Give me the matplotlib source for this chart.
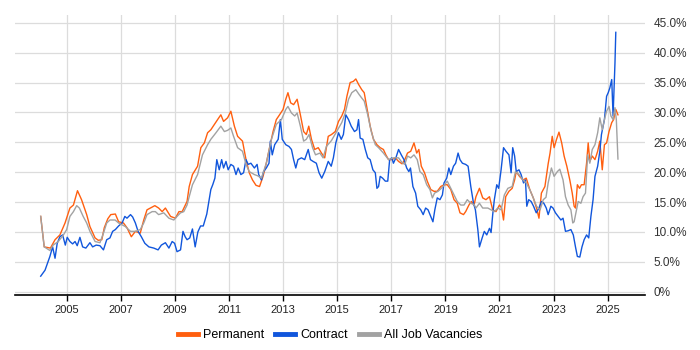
import matplotlib
matplotlib.use("Agg")
import matplotlib.pyplot as plt
from matplotlib.lines import Line2D
from matplotlib.ticker import FuncFormatter

plt.rcParams['font.family'] = ['Liberation Sans', 'DejaVu Sans']

# Permanent (orange) - decimal year, percent
perm_t = [2004.04, 2004.17, 2004.4, 2004.57, 2004.75, 2004.94, 2005.12, 2005.25, 2005.4, 2005.55,
          2005.74, 2005.86, 2006.05, 2006.17, 2006.3, 2006.39, 2006.52, 2006.63, 2006.8, 2006.92,
          2007.1, 2007.23, 2007.39, 2007.54, 2007.72, 2007.85, 2007.97, 2008.26, 2008.4, 2008.53,
          2008.65, 2008.84, 2009.02, 2009.15, 2009.27, 2009.45, 2009.53, 2009.65, 2009.84, 2009.96,
          2010.09, 2010.21, 2010.33, 2010.46, 2010.58, 2010.7, 2010.8, 2010.95, 2011.07, 2011.2,
          2011.32, 2011.5, 2011.63, 2011.75, 2011.87, 2012.0, 2012.13, 2012.26, 2012.38, 2012.5,
          2012.63, 2012.75, 2012.87, 2013.0, 2013.1, 2013.18, 2013.28, 2013.39, 2013.52, 2013.64,
          2013.76, 2013.86, 2013.95, 2014.05, 2014.17, 2014.3, 2014.42, 2014.54, 2014.67, 2014.79,
          2014.93, 2015.05, 2015.17, 2015.27, 2015.36, 2015.48, 2015.6, 2015.69, 2015.79, 2015.91,
          2016.0, 2016.1, 2016.22, 2016.34, 2016.47, 2016.59, 2016.71, 2016.8, 2016.9, 2017.02,
          2017.15, 2017.27, 2017.4, 2017.5, 2017.6, 2017.72, 2017.84, 2017.94, 2018.02, 2018.11,
          2018.23, 2018.33, 2018.46, 2018.58, 2018.7, 2018.83, 2018.95, 2019.07, 2019.2, 2019.32,
          2019.44, 2019.54, 2019.67, 2019.75, 2019.87, 2019.96, 2020.06, 2020.13, 2020.26, 2020.38,
          2020.5, 2020.63, 2020.75, 2020.87, 2021.0, 2021.08, 2021.15, 2021.23, 2021.35, 2021.47,
          2021.56, 2021.62, 2021.74, 2021.87, 2021.99, 2022.12, 2022.25, 2022.37, 2022.46, 2022.55,
          2022.68, 2022.8, 2022.87, 2022.95, 2023.02, 2023.11, 2023.2, 2023.3, 2023.39, 2023.49,
          2023.6, 2023.69, 2023.76, 2023.81, 2023.88, 2023.96, 2024.03, 2024.13, 2024.22, 2024.28,
          2024.34, 2024.43, 2024.53, 2024.63, 2024.71, 2024.8, 2024.88, 2024.96, 2025.05, 2025.15,
          2025.22, 2025.3, 2025.38]
perm_v = [12.6, 7.5, 7.3, 8.7, 9.5, 11.5, 14.0, 14.5, 16.9, 15.4,
          12.9, 10.9, 9.0, 8.6, 8.7, 10.7, 12.2, 12.9, 13.0, 11.7,
          11.5, 10.7, 9.2, 10.1, 9.8, 12.0, 13.7, 14.4, 14.0, 13.4,
          14.0, 12.6, 12.3, 13.4, 13.4, 15.1, 17.6, 19.6, 21.0, 24.1,
          24.9, 26.6, 27.1, 28.0, 28.8, 29.6, 28.5, 29.1, 30.2, 27.7,
          26.0, 25.2, 22.1, 19.9, 18.7, 17.8, 17.6, 19.3, 21.5, 24.1,
          26.8, 28.8, 29.6, 30.5, 32.2, 33.3, 31.6, 31.3, 32.2, 29.6,
          26.8, 26.3, 27.7, 25.5, 23.8, 24.1, 23.2, 22.4, 26.0, 26.3,
          26.8, 28.5, 29.4, 30.5, 32.7, 35.0, 35.2, 35.6, 34.7, 33.8,
          33.3, 30.8, 27.7, 25.5, 24.6, 24.1, 23.8, 22.9, 22.1, 22.1,
          22.4, 21.8, 21.4, 22.1, 23.2, 23.5, 24.9, 23.2, 23.8, 21.0,
          19.9, 18.5, 17.1, 16.8, 16.8, 17.6, 17.9, 17.9, 17.1, 15.4,
          14.8, 13.2, 12.9, 13.4, 14.5, 15.1, 14.5, 15.9, 17.3, 15.7,
          15.4, 15.9, 13.7, 13.4, 14.5, 14.0, 12.0, 15.9, 16.8, 17.3,
          18.7, 20.1, 19.3, 18.7, 19.0, 17.1, 15.7, 14.0, 12.3, 16.5,
          17.6, 21.4, 23.2, 26.0, 24.1, 25.5, 26.7, 24.9, 22.7, 21.0,
          18.7, 16.5, 14.3, 14.0, 17.9, 17.3, 17.9, 17.9, 21.5, 24.9,
          21.8, 22.7, 22.1, 23.5, 25.2, 20.4, 24.6, 24.9, 26.8, 28.3,
          28.8, 30.5, 29.6]

# Contract (blue)
contract_t = [2004.04, 2004.2, 2004.38, 2004.48, 2004.57, 2004.65, 2004.75, 2004.85, 2004.95, 2005.02,
              2005.12, 2005.22, 2005.31, 2005.39, 2005.49, 2005.59, 2005.71, 2005.86, 2005.96, 2006.09,
              2006.23, 2006.36, 2006.48, 2006.6, 2006.7, 2006.8, 2006.92, 2007.05, 2007.15, 2007.23,
              2007.36, 2007.44, 2007.54, 2007.64, 2007.76, 2007.89, 2008.04, 2008.22, 2008.38, 2008.5,
              2008.65, 2008.78, 2008.9, 2008.99, 2009.08, 2009.21, 2009.3, 2009.38, 2009.45, 2009.55,
              2009.65, 2009.75, 2009.85, 2009.95, 2010.05, 2010.18, 2010.27, 2010.33, 2010.4, 2010.48,
              2010.55, 2010.64, 2010.73, 2010.8, 2010.89, 2010.97, 2011.07, 2011.17, 2011.26, 2011.34,
              2011.44, 2011.54, 2011.63, 2011.71, 2011.81, 2011.94, 2012.04, 2012.1, 2012.2, 2012.28,
              2012.38, 2012.48, 2012.53, 2012.6, 2012.69, 2012.82, 2012.9, 2012.97, 2013.1, 2013.22,
              2013.31, 2013.39, 2013.47, 2013.55, 2013.68, 2013.8, 2013.93, 2014.01, 2014.11, 2014.23,
              2014.33, 2014.43, 2014.54, 2014.67, 2014.78, 2014.86, 2014.95, 2015.05, 2015.15, 2015.23,
              2015.32, 2015.42, 2015.52, 2015.64, 2015.73, 2015.79, 2015.85, 2015.95, 2016.04, 2016.13,
              2016.22, 2016.32, 2016.41, 2016.47, 2016.53, 2016.59, 2016.68, 2016.78, 2016.87, 2016.94,
              2017.02, 2017.08, 2017.17, 2017.27, 2017.37, 2017.47, 2017.57, 2017.65, 2017.71, 2017.8,
              2017.9, 2017.98, 2018.09, 2018.18, 2018.27, 2018.36, 2018.46, 2018.54, 2018.61, 2018.7,
              2018.8, 2018.89, 2018.95, 2019.05, 2019.13, 2019.2, 2019.3, 2019.38, 2019.47, 2019.54,
              2019.63, 2019.75, 2019.84, 2019.94, 2020.04, 2020.11, 2020.2, 2020.26, 2020.36, 2020.44,
              2020.53, 2020.63, 2020.69, 2020.75, 2020.81, 2020.9, 2020.97, 2021.06, 2021.15, 2021.24,
              2021.35, 2021.43, 2021.49, 2021.56, 2021.62, 2021.72, 2021.8, 2021.89, 2021.96, 2022.01,
              2022.08, 2022.17, 2022.26, 2022.36, 2022.46, 2022.55, 2022.64, 2022.73, 2022.8, 2022.9,
              2022.98, 2023.07, 2023.17, 2023.27, 2023.35, 2023.44, 2023.54, 2023.64, 2023.73, 2023.81,
              2023.88, 2023.97, 2024.05, 2024.13, 2024.22, 2024.3, 2024.38, 2024.46, 2024.53, 2024.63,
              2024.71, 2024.77, 2024.88, 2024.96, 2025.02, 2025.08, 2025.15, 2025.2, 2025.27, 2025.3]
contract_v = [2.6, 3.6, 5.9, 7.5, 5.6, 8.1, 9.2, 9.5, 7.8, 9.1,
              8.4, 8.0, 8.4, 7.7, 9.1, 7.5, 7.3, 8.2, 7.5, 7.8,
              7.7, 7.0, 8.7, 9.0, 10.1, 10.4, 11.0, 11.5, 12.6, 12.3,
              12.9, 12.5, 11.5, 10.1, 9.2, 8.1, 7.5, 7.3, 7.0, 7.8,
              8.2, 7.3, 8.4, 8.1, 6.7, 7.0, 10.1, 9.2, 8.7, 9.0,
              10.5, 7.5, 10.0, 11.0, 11.0, 13.0, 15.4, 17.1, 17.9, 19.0,
              22.1, 20.4, 22.1, 20.7, 21.8, 20.4, 21.3, 21.0, 19.6, 20.7,
              19.6, 19.9, 22.1, 21.3, 21.5, 20.7, 21.3, 19.6, 18.7, 20.1,
              20.7, 21.5, 25.2, 22.9, 24.6, 25.5, 28.8, 25.5, 24.6, 24.3,
              23.8, 22.1, 20.7, 22.1, 22.4, 22.1, 23.8, 22.1, 21.8, 21.5,
              19.9, 19.0, 20.1, 21.8, 21.0, 22.4, 24.9, 26.6, 25.5, 26.3,
              29.6, 28.8, 27.7, 26.8, 27.1, 28.8, 25.7, 25.5, 23.8, 22.4,
              22.1, 20.4, 19.9, 17.3, 17.6, 19.3, 19.0, 18.5, 18.5, 22.1,
              22.4, 21.5, 22.4, 23.8, 22.9, 22.1, 20.7, 20.1, 20.7, 17.6,
              16.5, 14.3, 13.7, 12.9, 14.0, 13.7, 12.6, 11.7, 13.7, 15.7,
              15.4, 16.2, 18.2, 19.0, 20.7, 19.6, 21.0, 21.5, 23.2, 22.1,
              21.5, 21.3, 21.0, 17.6, 14.8, 13.7, 10.4, 7.5, 9.0, 10.1,
              9.5, 10.6, 9.9, 12.9, 15.4, 17.9, 17.3, 20.4, 24.1, 23.5,
              22.9, 19.9, 24.1, 22.7, 20.1, 20.4, 19.6, 18.2, 18.7, 14.3,
              15.4, 15.1, 14.3, 13.2, 14.0, 15.1, 14.8, 14.0, 12.9, 14.3,
              14.0, 13.2, 12.6, 12.0, 12.3, 10.1, 10.2, 10.4, 9.5, 7.5,
              5.9, 5.8, 7.5, 8.7, 9.5, 9.0, 12.6, 15.4, 19.3, 21.0,
              23.5, 26.3, 28.8, 32.7, 33.3, 34.1, 35.5, 29.4, 38.3, 43.4]

# All job vacancies (grey)
all_t = [2004.04, 2004.17, 2004.38, 2004.5, 2004.69, 2004.88, 2005.0, 2005.12, 2005.25, 2005.37,
         2005.47, 2005.61, 2005.74, 2005.86, 2006.05, 2006.23, 2006.36, 2006.48, 2006.6, 2006.79,
         2006.92, 2007.17, 2007.36, 2007.54, 2007.72, 2007.85, 2007.97, 2008.16, 2008.28, 2008.4,
         2008.59, 2008.78, 2008.96, 2009.08, 2009.21, 2009.33, 2009.45, 2009.53, 2009.65, 2009.84,
         2010.02, 2010.21, 2010.33, 2010.52, 2010.7, 2010.83, 2010.95, 2011.07, 2011.17, 2011.32,
         2011.5, 2011.63, 2011.75, 2011.94, 2012.06, 2012.2, 2012.38, 2012.57, 2012.75, 2012.94,
         2013.1, 2013.18, 2013.31, 2013.43, 2013.52, 2013.64, 2013.76, 2013.86, 2013.96, 2014.09,
         2014.2, 2014.36, 2014.48, 2014.6, 2014.79, 2014.98, 2015.17, 2015.3, 2015.42, 2015.54,
         2015.69, 2015.81, 2015.91, 2016.0, 2016.13, 2016.26, 2016.41, 2016.53, 2016.71, 2016.9,
         2017.09, 2017.27, 2017.4, 2017.5, 2017.6, 2017.72, 2017.84, 2017.96, 2018.06, 2018.18,
         2018.31, 2018.43, 2018.52, 2018.6, 2018.73, 2018.85, 2018.97, 2019.07, 2019.2, 2019.32,
         2019.44, 2019.57, 2019.69, 2019.81, 2019.94, 2020.06, 2020.13, 2020.26, 2020.38, 2020.57,
         2020.69, 2020.81, 2020.94, 2021.06, 2021.18, 2021.31, 2021.47, 2021.59, 2021.72, 2021.87,
         2021.99, 2022.12, 2022.25, 2022.37, 2022.5, 2022.62, 2022.72, 2022.8, 2022.92, 2023.02,
         2023.14, 2023.23, 2023.35, 2023.44, 2023.54, 2023.64, 2023.71, 2023.76, 2023.85, 2023.91,
         2024.01, 2024.09, 2024.18, 2024.26, 2024.34, 2024.43, 2024.53, 2024.63, 2024.71, 2024.8,
         2024.88, 2024.96, 2025.05, 2025.12, 2025.2, 2025.27, 2025.32, 2025.38]
all_v = [12.6, 7.5, 6.9, 7.8, 8.4, 9.5, 10.4, 12.6, 13.4, 14.4,
         14.0, 12.6, 11.5, 10.1, 8.4, 8.2, 9.8, 11.5, 12.0, 12.0,
         11.5, 10.9, 10.1, 10.1, 10.4, 11.5, 12.9, 13.4, 13.4, 12.9,
         13.2, 12.3, 12.0, 12.6, 13.2, 13.4, 14.5, 15.9, 17.9, 19.6,
         22.9, 24.6, 25.5, 26.6, 27.7, 26.8, 27.0, 27.4, 26.0, 24.1,
         23.5, 21.3, 20.1, 19.6, 19.4, 19.0, 21.5, 25.5, 28.0, 28.8,
         30.5, 31.0, 29.9, 29.4, 29.9, 27.7, 25.2, 25.5, 26.3, 24.1,
         22.9, 23.2, 22.4, 24.3, 25.3, 26.8, 28.3, 29.9, 32.2, 33.3,
         33.8, 33.0, 32.4, 31.9, 29.6, 26.8, 24.6, 24.1, 23.2, 22.1,
         22.4, 22.4, 21.6, 21.3, 22.7, 22.4, 22.9, 22.1, 20.1, 19.6,
         17.9, 17.1, 15.7, 16.5, 16.8, 17.3, 17.9, 18.5, 17.3, 16.2,
         15.1, 14.5, 14.5, 15.4, 14.8, 14.6, 14.0, 14.8, 14.0, 14.0,
         13.7, 13.4, 14.0, 13.7, 16.2, 17.3, 17.6, 20.1, 19.6, 18.7,
         18.2, 17.1, 15.7, 14.3, 13.7, 15.4, 15.8, 18.2, 20.7, 19.3,
         20.1, 20.5, 18.7, 15.9, 14.5, 13.7, 11.5, 11.7, 13.7, 15.1,
         14.8, 15.9, 16.5, 22.9, 21.5, 23.8, 24.6, 26.6, 29.1, 27.1,
         28.8, 30.2, 31.0, 29.4, 28.8, 30.8, 28.8, 22.2]

series_names = ['Permanent', 'Contract', 'All Job Vacancies']
series_colors = ['#ff5f0f', '#1156dc', '#a2a2a2']
x_ticks = list(range(2005, 2026, 2))
y_ticks = list(range(0, 46, 5))


fig = plt.figure(figsize=(7, 3.5), dpi=100)
ax = fig.add_axes([15/700, 55/350, 630/700, 280/350])

ax.plot(perm_t, perm_v, color=series_colors[0], lw=1.0, zorder=3)
ax.plot(contract_t, contract_v, color=series_colors[1], lw=1.0, zorder=3)
ax.plot(all_t, all_v, color=series_colors[2], lw=1.0, zorder=3)

ax.set_xlim(2003.09, 2026.38)
ax.set_ylim(-0.55, 46.3)
ax.set_xticks(x_ticks)
ax.set_xticklabels([str(y) for y in x_ticks])
ax.set_yticks(y_ticks)
ax.yaxis.set_major_formatter(FuncFormatter(lambda v, p: '0%' if v == 0 else '%.1f%%' % v))
ax.yaxis.tick_right()

ax.grid(True, color='#dcdcdc', lw=0.9, zorder=0)
for s in ['left', 'right', 'top']:
    ax.spines[s].set_visible(False)
ax.spines['bottom'].set_color('black')
ax.spines['bottom'].set_linewidth(1.2)
ax.tick_params(axis='x', length=4, width=1, color='black', labelsize=8, pad=3, labelcolor='#222222')
ax.tick_params(axis='y', length=0, labelsize=8.5, pad=6, labelcolor='#333333')

handles = [Line2D([], [], color=c, lw=3.5) for c in series_colors]
fig.legend(handles, series_names, loc='center', bbox_to_anchor=(330/700, 15/350), ncol=3,
           frameon=False, fontsize=9, handlelength=1.6, handletextpad=0.4, columnspacing=0.9)

plt.savefig('out.png', dpi=100)
